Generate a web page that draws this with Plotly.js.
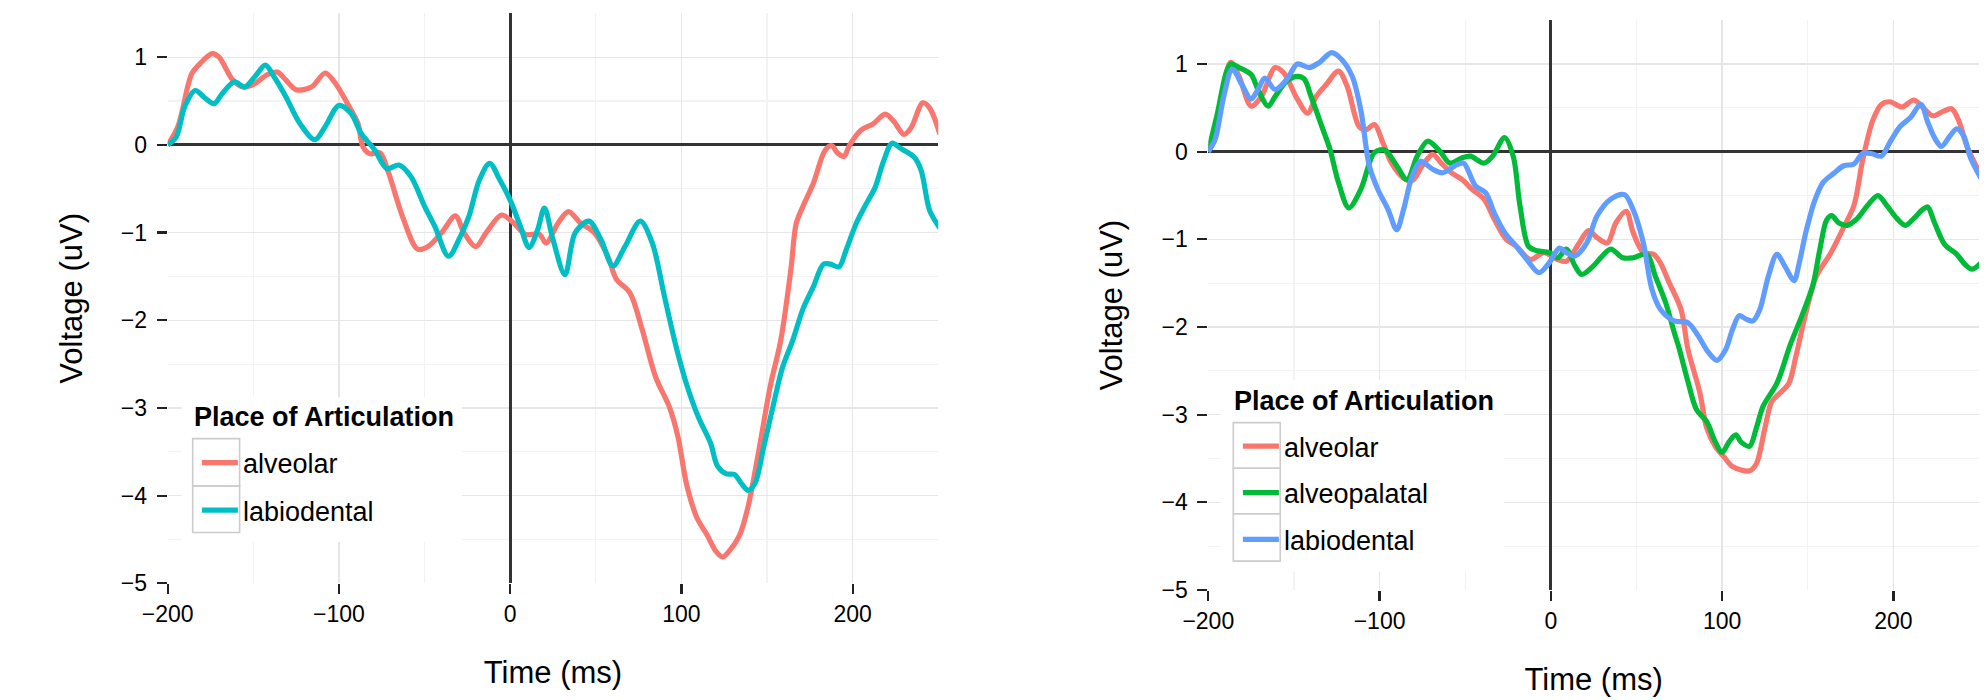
<!DOCTYPE html>
<html>
<head>
<meta charset="utf-8">
<script src="https://cdn.plot.ly/plotly-3.0.1.min.js"></script>
<style>html,body{margin:0;padding:0;background:#fff;}#chart{width:1987px;height:700px;}</style>
</head>
<body>
<div id="chart"></div>
<script>
// ---------- data ----------
const legendTitle = 'Place of Articulation';
const xTitle = 'Time (ms)';
const yTitle = 'Voltage (uV)';

const leftNames = ['alveolar', 'labiodental'];
const rightNames = ['alveolar', 'alveopalatal', 'labiodental'];

// Left panel: alveolar
const timeLeftAlveolar = [-200,-194,-186,-181,-174,-170,-162,-156,-149,-142,-136,-131,-125,-116,-108,-102,-95,-89,-86,-82,-76,-71,-63,-54,-48,-40,-32,-27,-20,-14,-5,2,9,17,21,28,34,41,49,57,62,70,77,85,93,98,103,109,115,120,124,128,134,139,145,152,158,164,167,171,177,184,188,191,195,198,205,212,219,224,230,234,241,245,251];
const voltLeftAlveolar = [0,0.21,0.81,0.93,1.04,1.0,0.74,0.66,0.70,0.80,0.83,0.74,0.63,0.66,0.82,0.70,0.47,0.25,-0.02,-0.10,-0.09,-0.32,-0.81,-1.19,-1.16,-1.0,-0.81,-1.0,-1.16,-1.0,-0.80,-0.89,-1.02,-1.02,-1.12,-0.89,-0.76,-0.89,-1.0,-1.27,-1.53,-1.69,-2.10,-2.65,-2.99,-3.33,-3.87,-4.25,-4.45,-4.63,-4.70,-4.63,-4.45,-4.12,-3.51,-2.74,-2.23,-1.41,-0.90,-0.70,-0.44,-0.06,-0.01,-0.09,-0.13,-0.01,0.17,0.24,0.35,0.27,0.12,0.19,0.48,0.42,0.12];

// Left panel: labiodental
const timeLeftLabiodental = [-200,-195,-190,-184,-178,-173,-168,-161,-155,-149,-143,-138,-131,-123,-114,-108,-100,-93,-87,-79,-72,-65,-58,-50,-44,-36,-29,-24,-18,-12,-6,0,6,11,16,20,25,32,38,46,53,60,67,76,83,90,97,103,110,117,121,126,131,135,139,143,148,154,159,165,171,177,183,187,192,196,202,208,213,218,223,228,236,240,245,251];
const voltLeftLabiodental = [0,0.09,0.44,0.62,0.53,0.47,0.59,0.72,0.66,0.78,0.91,0.78,0.55,0.25,0.06,0.21,0.45,0.36,0.13,-0.06,-0.27,-0.23,-0.36,-0.70,-0.93,-1.27,-1.04,-0.81,-0.40,-0.21,-0.40,-0.63,-0.93,-1.17,-0.97,-0.72,-1.08,-1.48,-1.0,-0.87,-1.08,-1.38,-1.16,-0.87,-1.12,-1.72,-2.31,-2.73,-3.11,-3.40,-3.66,-3.75,-3.76,-3.86,-3.94,-3.86,-3.45,-2.94,-2.54,-2.23,-1.87,-1.62,-1.36,-1.36,-1.39,-1.21,-0.90,-0.67,-0.49,-0.19,0.02,-0.04,-0.14,-0.29,-0.75,-0.95];

// Right panel: alveolar
const timeRightAlveolar = [-200,-195,-187,-182,-175,-169,-161,-156,-148,-142,-137,-131,-124,-119,-112,-108,-103,-98,-93,-86,-81,-75,-69,-64,-58,-51,-46,-39,-33,-26,-20,-12,-4,4,9,16,22,27,33,38,44,48,54,60,64,69,76,80,87,91,96,101,106,116,120,125,129,134,139,143,149,155,163,171,177,182,188,193,198,205,212,217,223,229,234,238,243,248,251];
const voltRightAlveolar = [0,0.29,1.02,0.86,0.52,0.63,0.96,0.90,0.60,0.44,0.63,0.77,0.92,0.75,0.29,0.25,0.31,0.10,-0.13,-0.30,-0.33,-0.16,-0.03,-0.13,-0.24,-0.33,-0.43,-0.54,-0.77,-1.0,-1.08,-1.23,-1.15,-1.23,-1.25,-1.06,-0.90,-0.98,-1.04,-0.81,-0.68,-0.92,-1.15,-1.17,-1.27,-1.49,-1.80,-2.25,-2.75,-3.15,-3.36,-3.48,-3.59,-3.64,-3.56,-3.15,-2.85,-2.75,-2.64,-2.34,-1.83,-1.42,-1.17,-0.86,-0.61,-0.10,0.36,0.54,0.57,0.51,0.59,0.51,0.41,0.46,0.49,0.36,0.06,-0.15,-0.25];

// Right panel: alveopalatal
const timeRightAlveopalatal = [-200,-195,-187,-182,-175,-171,-165,-161,-154,-148,-144,-140,-133,-129,-124,-118,-111,-103,-97,-90,-84,-78,-72,-65,-59,-52,-47,-39,-34,-27,-22,-18,-13,-8,-1,4,9,14,18,25,30,35,42,48,56,61,67,72,75,80,85,91,96,100,104,108,111,116,120,124,132,140,147,153,157,161,164,168,173,179,185,191,196,202,207,212,217,220,224,230,237,242,246,251];
const voltRightAlveopalatal = [0,0.41,1.0,0.96,0.88,0.71,0.52,0.63,0.81,0.86,0.83,0.63,0.25,0.03,-0.35,-0.64,-0.43,-0.01,0.02,-0.16,-0.32,-0.05,0.12,0.01,-0.13,-0.07,-0.05,-0.13,-0.05,0.16,-0.05,-0.62,-1.08,-1.13,-1.15,-1.21,-1.11,-1.30,-1.40,-1.30,-1.19,-1.11,-1.21,-1.21,-1.17,-1.42,-1.72,-2.06,-2.25,-2.62,-2.94,-3.08,-3.31,-3.43,-3.31,-3.23,-3.31,-3.36,-3.15,-2.90,-2.64,-2.19,-1.85,-1.52,-1.12,-0.78,-0.73,-0.81,-0.84,-0.76,-0.61,-0.50,-0.61,-0.76,-0.84,-0.76,-0.66,-0.63,-0.81,-1.06,-1.17,-1.29,-1.34,-1.27];

// Right panel: labiodental
const timeRightLabiodental = [-200,-196,-191,-186,-180,-175,-171,-167,-161,-154,-148,-141,-135,-128,-122,-116,-111,-106,-101,-95,-90,-86,-81,-76,-69,-63,-56,-51,-44,-38,-33,-27,-21,-14,-7,-1,5,9,14,21,27,35,43,48,54,59,64,72,80,86,92,97,102,106,110,114,118,122,127,132,137,142,145,149,154,159,165,171,177,182,187,193,198,204,210,216,220,224,228,233,237,241,245,251];
const voltRightLabiodental = [0,0.14,0.63,0.94,0.75,0.60,0.71,0.84,0.71,0.83,1.0,0.96,1.02,1.13,1.05,0.86,0.48,-0.16,-0.43,-0.66,-0.89,-0.66,-0.28,-0.11,-0.20,-0.24,-0.16,-0.13,-0.39,-0.47,-0.70,-0.92,-1.06,-1.23,-1.38,-1.27,-1.10,-1.15,-1.19,-1.04,-0.73,-0.54,-0.49,-0.66,-1.04,-1.57,-1.80,-1.93,-1.95,-2.10,-2.29,-2.38,-2.26,-2.03,-1.87,-1.91,-1.93,-1.80,-1.42,-1.17,-1.32,-1.47,-1.27,-0.91,-0.56,-0.35,-0.25,-0.16,-0.14,-0.02,-0.02,-0.05,0.11,0.29,0.39,0.54,0.34,0.16,0.06,0.18,0.26,0.18,-0.07,-0.30];

// ---------- styling ----------
const FONT = '"Liberation Sans", Arial, Helvetica, sans-serif';
const COL_ALV = '#F8766D';
const COL_LAB2 = '#00BFC4';
const COL_PAL = '#00BA38';
const COL_LAB3 = '#619CFF';
const LW = 5.2;

function line(name, x, y, color, xa, ya, leg, grp) {
  return {
    type: 'scatter', mode: 'lines', name: name, x: x, y: y,
    xaxis: xa, yaxis: ya, legend: leg, legendgroup: grp,
    line: {color: color, width: LW, shape: 'spline', smoothing: 0.9},
    hoverinfo: 'skip'
  };
}

const traces = [
  line(leftNames[0], timeLeftAlveolar, voltLeftAlveolar, COL_ALV, 'x', 'y', 'legend', 'L1'),
  line(leftNames[1], timeLeftLabiodental, voltLeftLabiodental, COL_LAB2, 'x', 'y', 'legend', 'L2'),
  line(rightNames[0], timeRightAlveolar, voltRightAlveolar, COL_ALV, 'x2', 'y2', 'legend2', 'R1'),
  line(rightNames[1], timeRightAlveopalatal, voltRightAlveopalatal, COL_PAL, 'x2', 'y2', 'legend2', 'R2'),
  line(rightNames[2], timeRightLabiodental, voltRightLabiodental, COL_LAB3, 'x2', 'y2', 'legend2', 'R3')
];

function xAxis(domain, anchor) {
  return {
    domain: domain, anchor: anchor, range: [-200, 250], tick0: 0, dtick: 100,
    ticks: 'outside', ticklen: 10, tickwidth: 2.2, tickcolor: '#222',
    showline: false, zeroline: true, zerolinecolor: '#333', zerolinewidth: 2.8,
    showgrid: true, gridcolor: '#e6e6e6', gridwidth: 1.4,
    minor: {dtick: 50, showgrid: true, gridcolor: '#f3f3f3', gridwidth: 1.2},
    tickfont: {family: FONT, size: 23, color: '#000'},
    title: {text: xTitle, font: {family: FONT, size: 31, color: '#000'}, standoff: 35},
    fixedrange: true, automargin: false
  };
}
function yAxis(domain, anchor) {
  return {
    domain: domain, anchor: anchor, range: [-5, 1.5], tick0: 0, dtick: 1,
    ticks: 'outside', ticklen: 10, tickwidth: 2.2, tickcolor: '#222',
    showline: false, zeroline: true, zerolinecolor: '#333', zerolinewidth: 2.8,
    showgrid: true, gridcolor: '#e6e6e6', gridwidth: 1.4,
    minor: {dtick: 0.5, showgrid: true, gridcolor: '#f3f3f3', gridwidth: 1.2},
    tickfont: {family: FONT, size: 23, color: '#000'}, ticklabelstandoff: 5,
    title: {text: yTitle, font: {family: FONT, size: 31, color: '#000'}, standoff: 29},
    fixedrange: true, automargin: false
  };
}

function legendBox(x, y, gap) {
  return {
    x: x, y: y, xanchor: 'left', yanchor: 'top', bgcolor: 'rgba(255,255,255,0)', borderwidth: 0,
    font: {family: FONT, size: 27, color: '#000'}, itemwidth: 36,
    tracegroupgap: gap, traceorder: 'grouped', itemclick: false, itemdoubleclick: false
  };
}

// legend background panel and grey key frames (decoration, in axis units)
function legendDecor(xr, yr, x0, x1, y0, y1, boxEdges) {
  const s = [{type: 'rect', xref: xr, yref: yr, x0: x0, x1: x1, y0: y0, y1: y1,
              fillcolor: '#ffffff', line: {width: 0}, layer: 'between'}];
  for (let i = 0; i < boxEdges.length - 1; i++) {
    s.push({type: 'rect', xref: xr, yref: yr, x0: -185.4, x1: -158, y0: boxEdges[i], y1: boxEdges[i + 1],
            fillcolor: 'rgba(0,0,0,0)', line: {color: '#cccccc', width: 1.6}, layer: 'between'});
  }
  return s;
}

const shapes = [].concat(
  legendDecor('x', 'y', -192, -28, -2.88, -4.53, [-3.35, -3.89, -4.42]),
  legendDecor('x2', 'y2', -192.7, -27.3, -2.60, -4.79, [-3.09, -3.61, -4.13, -4.67])
);

function legendHeading(x, y) {
  return {text: '<b>' + legendTitle + '</b>', xref: 'paper', yref: 'paper', x: x, y: y,
          xanchor: 'left', yanchor: 'middle', showarrow: false,
          font: {family: FONT, size: 27, color: '#000'}};
}

const layout = {
  width: 1987, height: 700,
  margin: {l: 0, r: 0, t: 0, b: 0},
  paper_bgcolor: '#ffffff', plot_bgcolor: '#ffffff',
  font: {family: FONT, color: '#000'},
  showlegend: true,
  xaxis: xAxis([0.0844, 0.4722], 'y'),
  yaxis: yAxis([0.1667, 0.9809], 'x'),
  xaxis2: xAxis([0.6081, 0.9960], 'y2'),
  yaxis2: yAxis([0.1571, 0.9711], 'x2'),
  legend: legendBox(0.0991, 0.3736, 9.5),
  legend2: legendBox(0.6230, 0.3971, 8.5),
  annotations: [
    legendHeading(192 / 1987, 1 - 417 / 700),
    legendHeading(1232 / 1987, 1 - 401 / 700)
  ],
  shapes: shapes
};

Plotly.newPlot('chart', traces, layout, {displayModeBar: false, staticPlot: true});
</script>
</body>
</html>
